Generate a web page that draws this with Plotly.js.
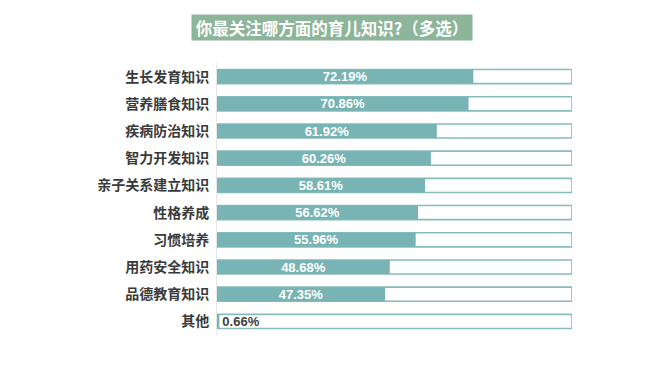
<!DOCTYPE html>
<html>
<head>
<meta charset="utf-8">
<script src="https://cdn.plot.ly/plotly-3.0.1.min.js"></script>
<style>html,body{margin:0;padding:0;background:#fff;}#chart{width:660px;height:372px;}</style>
</head>
<body>
<div id="chart"></div>
<script>
const categories = ["生长发育知识","营养膳食知识","疾病防治知识","智力开发知识","亲子关系建立知识","性格养成","习惯培养","用药安全知识","品德教育知识","其他"];
const values = [72.19, 70.86, 61.92, 60.26, 58.61, 56.62, 55.96, 48.68, 47.35, 0.66];
const fullScale = [100,100,100,100,100,100,100,100,100,100];
const chartTitle = "你最关注哪方面的育儿知识?（多选）";

const teal = "#78b4b4";
const cjk = "'Noto Sans CJK SC', 'Noto Sans', sans-serif";

const bgTrace = {
  type: "bar", orientation: "h",
  y: categories, x: fullScale,
  marker: {color: "#ffffff", line: {color: "#86bcbc", width: 1.6}},
  hoverinfo: "skip", showlegend: false
};
const valTrace = {
  type: "bar", orientation: "h",
  y: categories, x: values,
  marker: {color: teal, line: {color: teal, width: 0}},
  text: values.map(v => v.toFixed(2) + "%"),
  textposition: values.map(v => v < 5 ? "outside" : "inside"),
  insidetextanchor: "middle",
  insidetextfont: {color: "#ffffff", size: 13, family: "Arial, 'Liberation Sans', sans-serif", weight: "bold"},
  outsidetextfont: {color: "#404040", size: 13, family: "Arial, 'Liberation Sans', sans-serif", weight: "bold"},
  constraintext: "none",
  cliponaxis: false,
  showlegend: false
};

const layout = {
  width: 660, height: 372,
  margin: {l: 217, r: 88, t: 63, b: 37},
  paper_bgcolor: "#ffffff", plot_bgcolor: "#ffffff",
  barmode: "overlay", bargap: 0.48,
  xaxis: {range: [0, 100], showgrid: false, zeroline: false, showticklabels: false, showline: false, fixedrange: true},
  yaxis: {autorange: "reversed", showgrid: false, zeroline: false, showline: true, linecolor: "#e6e6e6", linewidth: 1,
          ticks: "", ticklabelstandoff: 4,
          tickfont: {family: cjk, size: 14, color: "#3a3a3a", weight: "bold"}},
  annotations: [{
    xref: "paper", yref: "paper", x: 0.324, y: 1.129, xanchor: "center", yanchor: "middle",
    text: chartTitle, showarrow: false,
    font: {family: cjk, size: 16.5, color: "#ffffff", weight: "bold"},
    bgcolor: "#8cb59a", borderpad: 2, width: 276, height: 21
  }]
};

Plotly.newPlot("chart", [bgTrace, valTrace], layout, {displayModeBar: false, staticPlot: true});
</script>
</body>
</html>
